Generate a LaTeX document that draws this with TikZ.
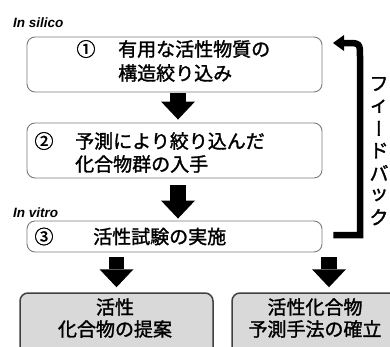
\documentclass[tikz,border=0pt]{standalone}
\usepackage{fontspec}
\newfontfamily\jp[FakeBold=1.5]{Noto Sans CJK JP}
\newfontfamily\jpv[FakeBold=1.5,RawFeature=+vert]{Noto Sans CJK JP}
\newfontfamily\lat{Liberation Sans}
\usetikzlibrary{arrows.meta}
\definecolor{boxline}{HTML}{7A7A7A}
\definecolor{resline}{HTML}{404040}
\definecolor{resfill}{HTML}{D9D9D9}
\begin{document}
\begin{tikzpicture}[x=1pt,y=-1pt,
  stepbox/.style={draw=boxline,line width=0.9pt,rounded corners=8pt,minimum width=295pt,inner sep=0pt},
  resbox/.style={draw=resline,fill=resfill,line width=1.5pt,rounded corners=8pt,minimum height=67pt,inner sep=0pt},
  jt/.style={font=\jp\fontsize{19}{23}\selectfont,inner sep=0pt},
  jv/.style={font=\jpv\fontsize{19}{23}\selectfont,inner sep=0pt},
  lab/.style={font=\lat\bfseries\itshape\fontsize{13.5}{16}\selectfont,inner sep=0pt,anchor=base west},
  blk/.style={line width=15.5pt,-{Triangle[length=18pt,width=34pt,line width=0pt]}},
  fb/.style={line width=6.5pt,-{Triangle[length=11pt,width=16pt,line width=0pt]}}]
\useasboundingbox (0,0) rectangle (390,346);
\clip (0,0) rectangle (390,346);
% boxes
\node[stepbox,minimum height=55pt] (b1) at (174.5,64.5) {};
\node[stepbox,minimum height=55pt] (b2) at (174.5,150.5) {};
\node[stepbox,minimum height=31pt] (b3) at (174.5,236.5) {};
\node[resbox,minimum width=193pt] (b4) at (116.5,326.5) {};
\node[resbox,minimum width=166pt] (b5) at (315,326.5) {};
% labels
\node[lab] (ls) at (13,27) {In silico};
\node[lab] (lv) at (13,217) {In vitro};
% box 1 text
\node[jt] (n1) at (86,49) {①};
\node[jt,anchor=west] (t1a) at (118,49) {有用な活性物質の};
\node[jt,anchor=west] (t1b) at (118,73) {構造絞り込み};
% box 2 text
\node[jt] (n2) at (44,141) {②};
\node[jt,anchor=west] (t2a) at (75,141) {予測により絞り込んだ};
\node[jt,anchor=west] (t2b) at (75,164) {化合物群の入手};
% box 3 text
\node[jt] (n3) at (44,236.5) {③};
\node[jt,anchor=west] (t3) at (93,236.5) {活性試験の実施};
% result texts
\node[jt] (t4a) at (115,307) {活性};
\node[jt] (t4b) at (115,329) {化合物の提案};
\node[jt] (t5a) at (315,307) {活性化合物};
\node[jt] (t5b) at (315,329) {予測手法の確立};
% block arrows
\coordinate (ca) at (178,0);
\coordinate (cb) at (329,0);
\draw[blk,shorten <=1pt,shorten >=3pt] (b1.south -| ca) -- (b2.north -| ca);
\draw[blk,shorten <=7pt,shorten >=2pt] (b2.south -| ca) -- (b3.north -| ca);
\draw[blk,shorten <=5pt,shorten >=5pt] (b3.south -| b4.north) -- (b4.north);
\draw[blk,shorten <=5pt,shorten >=5pt] (b3.south -| cb) -- (b5.north -| cb);
% feedback
\coordinate (fbr) at (360,0);
\coordinate (fbt) at (333,43);
\coordinate (fbs) at ([xshift=11pt,yshift=1.5pt]b3.east);
\draw[fb] (fbs) -- (fbr |- fbs) -- ([yshift=-14pt]fbr |- fbt)
  .. controls (fbr |- fbt) .. ([xshift=-14pt]fbr |- fbt) -- (fbt);
\foreach \c [count=\i from 0] in {フ,ィ,ー,ド,バ,ッ,ク}{
  \ifnum\i=2
    \node[jv] (k\i) at (379,84+22.2*\i) {\c};
  \else
    \node[jt] (k\i) at (379,84+22.2*\i) {\c};
  \fi
}
\end{tikzpicture}
\end{document}
